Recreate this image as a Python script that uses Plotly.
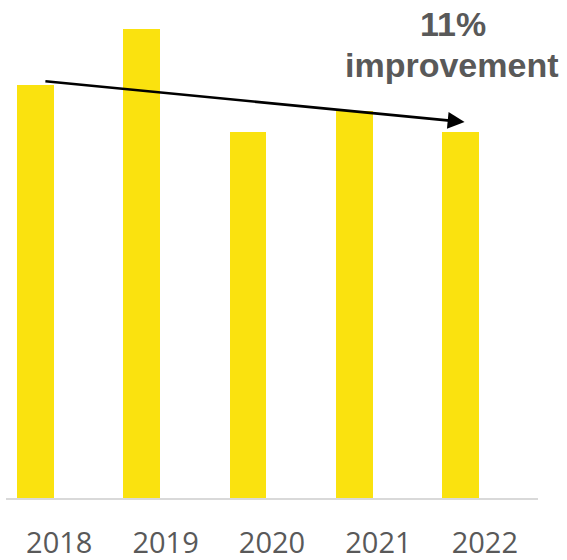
import plotly.graph_objects as go

years = ["2018", "2019", "2020", "2021", "2022"]
values = [100.0, 113.6, 88.8, 93.8, 88.8]
label_line1 = "11%"
label_line2 = "improvement"

BAR_COLOR = "#FAE20F"
TEXT_COLOR = "#595959"

xs = list(range(len(years)))

fig = go.Figure()
fig.add_trace(go.Bar(
    x=xs, y=values,
    width=0.347, offset=-0.399,
    marker=dict(color=BAR_COLOR, line=dict(width=0)),
    hoverinfo="skip",
))

# arrow from top of first bar to top of last bar
fig.add_annotation(
    x=xs[-1] - 0.19, y=values[-1] + 2.3,
    ax=xs[0] - 0.144, ay=values[0] + 1.0,
    xref="x", yref="y", axref="x", ayref="y",
    showarrow=True, arrowhead=2, arrowsize=1.3, arrowwidth=2.6,
    arrowcolor="#000000", text="",
)

fig.add_annotation(
    x=453, y=560 - 24, xref="paper", yref="paper",
    text="<b>%s</b>" % label_line1, showarrow=False,
    font=dict(family="Liberation Sans, Arial", size=34, color=TEXT_COLOR),
    xanchor="center", yanchor="middle",
)
fig.add_annotation(
    x=452, y=560 - 65, xref="paper", yref="paper",
    text="<b>%s</b>" % label_line2, showarrow=False,
    font=dict(family="Liberation Sans, Arial", size=34, color=TEXT_COLOR),
    xanchor="center", yanchor="middle",
)

# convert pixel-positioned annotations to paper coords
W, H = 567, 560
ML, MR, MT, MB = 6, 29, 0, 62
pw, ph = W - ML - MR, H - MT - MB
for a in fig.layout.annotations[1:]:
    a.x = (a.x - ML) / pw
    a.y = (a.y - MB) / ph

fig.update_layout(
    width=W, height=H,
    margin=dict(l=ML, r=MR, t=MT, b=MB, pad=0, autoexpand=False),
    paper_bgcolor="white", plot_bgcolor="white",
    showlegend=False,
    bargap=0,
    xaxis=dict(
        range=[-0.5, 4.5],
        tickmode="array", tickvals=xs, ticktext=years,
        showgrid=False, zeroline=False, automargin=False,
        showline=True, linecolor="#D9D9D9", linewidth=2,
        ticks="outside", ticklen=18, tickcolor="rgba(0,0,0,0)",
        tickfont=dict(family="Open Sans", size=29, color=TEXT_COLOR),
        fixedrange=True,
    ),
    yaxis=dict(
        range=[0, 498 / 4.127],
        visible=False, showgrid=False, zeroline=False, automargin=False,
        fixedrange=True,
    ),
)

fig.write_html(
    "out.html",
    config={"displayModeBar": False},
    post_script="document.body.style.margin='0';document.body.style.overflow='hidden';",
)
